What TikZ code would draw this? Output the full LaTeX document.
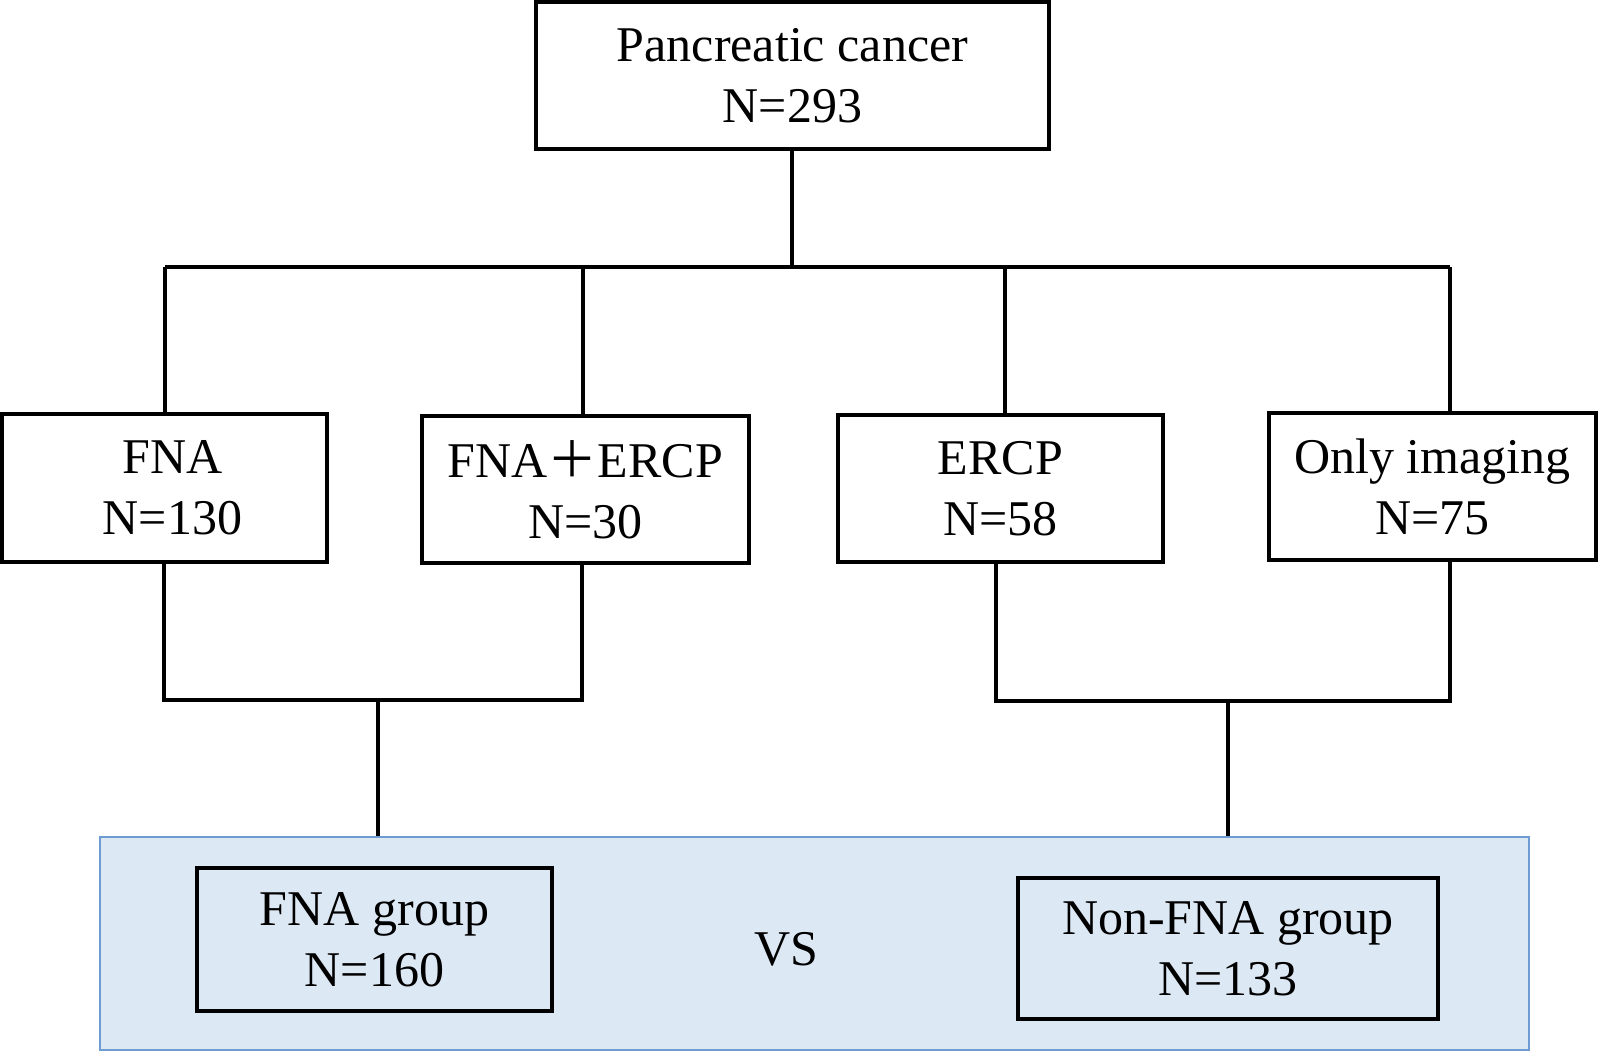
\documentclass[tikz,border=0pt]{standalone}
\usepackage{fontspec}
\setmainfont{Liberation Serif}
\newfontfamily\cjk{Noto Sans CJK SC}
\definecolor{panelfill}{RGB}{221,232,245}
\definecolor{paneldraw}{RGB}{110,155,210}
\begin{document}
\begin{tikzpicture}[x=0.5pt,y=-0.5pt,
  box/.style={draw=black,line width=1.6pt,fill=white,align=center,inner sep=0pt,
    font=\fontsize{25pt}{30.5pt}\selectfont},
  conn/.style={line width=1.6pt,black}]
\useasboundingbox (0,0) rectangle (1600,1052);
\node[draw=paneldraw,fill=panelfill,line width=1pt,minimum width=714.5pt,minimum height=106.5pt,inner sep=0pt] (panel) at (814.5,943.5) {};
\node[box,minimum width=256.5pt,minimum height=73.5pt] (top) at (792.5,75.5) {Pancreatic cancer\\N=293};
\node[box,minimum width=162.5pt,minimum height=74pt] (fna) at (164.5,488) {\hspace*{8pt}FNA\\\hspace*{8pt}N=130};
\node[box,minimum width=163.5pt,minimum height=73.5pt] (fer) at (585.5,489.5) {FNA{\cjk ＋}ERCP\\N=30};
\node[box,minimum width=162.5pt,minimum height=73.5pt] (ercp) at (1000.5,488.5) {ERCP\\N=58};
\node[box,minimum width=163.5pt,minimum height=73.5pt] (img) at (1432.5,486.5) {Only imaging\\N=75};
\node[box,minimum width=177.5pt,minimum height=71.5pt,fill=panelfill] (fg) at (374.5,939.5) {FNA group\\N=160};
\node[box,minimum width=210pt,minimum height=70.5pt,fill=panelfill] (nfg) at (1228,948.5) {Non-FNA group\\N=133};
\node[font=\fontsize{25pt}{30.5pt}\selectfont,inner sep=0pt] (vs) at (786,949) {VS};
% top tree
\coordinate (tj) at (792,267);
\coordinate (t1) at (165,267);
\coordinate (t2) at (583,267);
\coordinate (t3) at (1005,267);
\coordinate (t4) at (1450,267);
\draw[conn,line width=2pt] (t1) -- (t4);
\draw[conn] (top.south -| tj) -- (tj);
\draw[conn] (t1) -- (t1 |- fna.north);
\draw[conn] (t2) -- (t2 |- fer.north);
\draw[conn] (t3) -- (t3 |- ercp.north);
\draw[conn] (t4) -- (t4 |- img.north);
% bottom left
\coordinate (b1) at (164,700);
\coordinate (b2) at (582,700);
\coordinate (m1) at (378,700);
\draw[conn] (b1 |- fna.south) -- (b1) -- (b2) -- (b2 |- fer.south);
\draw[conn] (m1) -- (m1 |- panel.north);
% bottom right
\coordinate (b3) at (996,701);
\coordinate (b4) at (1450,701);
\coordinate (m2) at (1228,701);
\draw[conn] (b3 |- ercp.south) -- (b3) -- (b4) -- (b4 |- img.south);
\draw[conn] (m2) -- (m2 |- panel.north);
\end{tikzpicture}
\end{document}
